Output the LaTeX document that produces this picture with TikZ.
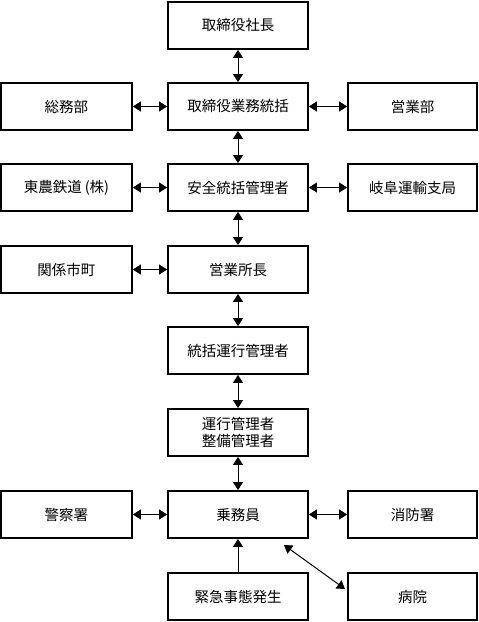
\documentclass[tikz,border=0pt]{standalone}
\usepackage{fontspec}
\setmainfont{Noto Sans CJK JP}
\usetikzlibrary{arrows.meta}
\tikzset{
  box/.style={draw=black, line width=1.8pt, minimum height=47pt, inner sep=0pt, font=\fontsize{14.5pt}{17pt}\selectfont, align=center},
  cbox/.style={box, minimum width=140pt},
  lbox/.style={box, minimum width=131pt},
  rbox/.style={box, minimum width=129pt},
  tip/.tip={Triangle[length=8pt,width=10pt]},
  both/.style={line width=1pt, tip-tip},
  one/.style={line width=1pt, -tip}
}
\begin{document}
\begin{tikzpicture}[x=1pt,y=-1pt]
\useasboundingbox (0,0) rectangle (479,622);
% center column
\node[cbox] (c1) at (238,25.5) {取締役社長};
\node[cbox] (c2) at (238,106.5) {取締役業務統括};
\node[cbox] (c3) at (238,187.5) {安全統括管理者};
\node[cbox] (c4) at (238,269.5) {営業所長};
\node[cbox] (c5) at (238,350.5) {統括運行管理者};
\node[cbox] (c6) at (238,432.5) {運行管理者\\整備管理者};
\node[cbox] (c7) at (238,514.5) {乗務員};
\node[cbox] (c8) at (238,596.5) {緊急事態発生};
% left column
\node[lbox] (l2) at (66.5,106.5) {総務部};
\node[lbox] (l3) at (66.5,187.5) {東農鉄道\kern3pt(株)};
\node[lbox] (l4) at (66.5,269.5) {関係市町};
\node[lbox] (l7) at (66.5,514.5) {警察署};
% right column
\node[rbox] (r2) at (412.5,106.5) {営業部};
\node[rbox] (r3) at (412.5,187.5) {岐阜運輸支局};
\node[rbox] (r7) at (412.5,514.5) {消防署};
\node[rbox] (r8) at (412.5,596.5) {病院};
% vertical arrows
\draw[both] (c1.south) -- (c2.north);
\draw[both] (c2.south) -- (c3.north);
\draw[both] (c3.south) -- (c4.north);
\draw[both] (c4.south) -- (c5.north);
\draw[both] (c5.south) -- (c6.north);
\draw[both] (c6.south) -- (c7.north);
\draw[one] (c8.north) -- (c7.south);
% horizontal arrows
\draw[both] (l2.east) -- (c2.west);
\draw[both] (l3.east) -- (c3.west);
\draw[both] (l4.east) -- (c4.west);
\draw[both] (l7.east) -- (c7.west);
\draw[both] (c2.east) -- (r2.west);
\draw[both] (c3.east) -- (r3.west);
\draw[both] (c7.east) -- (r7.west);
% diagonal
\coordinate (d1) at (284,545);
\coordinate (d2) at (345,589);
\draw[both] (d1) -- (d2);
\end{tikzpicture}
\end{document}
